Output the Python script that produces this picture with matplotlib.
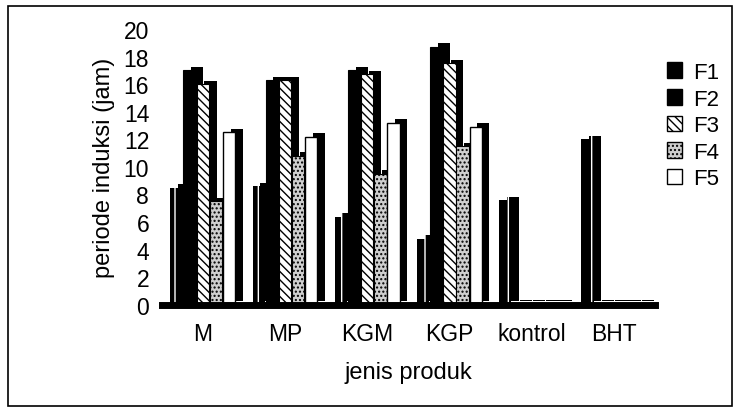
import numpy as np
import matplotlib
matplotlib.use("Agg")
import matplotlib.pyplot as plt
import matplotlib.patheffects as pe
from matplotlib.patches import Rectangle, Patch

plt.rcParams['font.family'] = ['Liberation Sans', 'DejaVu Sans']
plt.rcParams['hatch.linewidth'] = 1.0

produk = ['M', 'MP', 'KGM', 'KGP', 'kontrol', 'BHT']
seri = ['F1', 'F2', 'F3', 'F4', 'F5']
F1 = [8.5, 8.6, 6.4, 4.8, 7.6, 12.0]
F2 = [17.0, 16.3, 17.0, 18.7, 0.1, 0.1]
F3 = [16.0, 16.3, 16.7, 17.5, 0.1, 0.1]
F4 = [7.5, 10.8, 9.5, 11.5, 0.1, 0.1]
F5 = [12.5, 12.2, 13.2, 12.9, 0.1, 0.1]
nilai = [F1, F2, F3, F4, F5]

# gaya tiap seri (meniru pola hitam-putih)
gaya = [
    dict(facecolor='black', edgecolor='white', hatch='|', linewidth=0),
    dict(facecolor='black', edgecolor='black', linewidth=0.8),
    dict(facecolor='white', edgecolor='black', hatch='\\\\\\\\', linewidth=0.8),
    dict(facecolor='#cfcfcf', edgecolor='black', hatch='....', linewidth=0.8),
    dict(facecolor='white', edgecolor='black', linewidth=1.0),
]

fig = plt.figure(figsize=(7.35, 4.10), dpi=100)
ax = fig.add_axes([0.22, 0.254, 0.671, 0.673])

x = np.arange(len(produk))
lebar = 0.15
geser = [-0.32, -0.16, 0.0, 0.16, 0.32]
bayang = [pe.SimplePatchShadow(offset=(5.5, 2.5), shadow_rgbFace='black', alpha=1), pe.Normal()]

for i in range(len(seri)):
    b = ax.bar(x + geser[i], nilai[i], lebar, label=seri[i], **gaya[i])
    for p in b:
        p.set_path_effects(bayang)

ax.set_xlim(-0.5, 5.5)
ax.set_ylim(0, 20)
ax.set_yticks(np.arange(0, 21, 2))
ax.set_xticks(x)
ax.set_xticklabels(produk)
ax.tick_params(axis='both', length=0, labelsize=16.5)
ax.tick_params(axis='y', pad=9)
ax.tick_params(axis='x', pad=12)
for s in ['top', 'right', 'left']:
    ax.spines[s].set_visible(False)
ax.spines['bottom'].set_linewidth(5)

ax.set_ylabel('periode induksi (jam)', fontsize=17, labelpad=6)
ax.set_xlabel('jenis produk', fontsize=17, labelpad=12)

# legenda tanpa bayangan
proxy = [Patch(**dict(g, linewidth=1.0, edgecolor='black') if i != 0 else
               dict(facecolor='black', edgecolor='black', linewidth=1.0))
         for i, g in enumerate(gaya)]
leg = fig.legend(handles=proxy, labels=seri, loc='upper left',
                 bbox_to_anchor=(0.88, 0.895), frameon=False, fontsize=16,
                 handlelength=0.7, handleheight=0.7, handletextpad=0.5,
                 labelspacing=0.25)

# bingkai luar
fig.patches.append(Rectangle((0.011, 0.008), 0.985, 0.975, transform=fig.transFigure,
                             fill=False, edgecolor='black', linewidth=1.2))

fig.savefig('out.png', dpi=100)
